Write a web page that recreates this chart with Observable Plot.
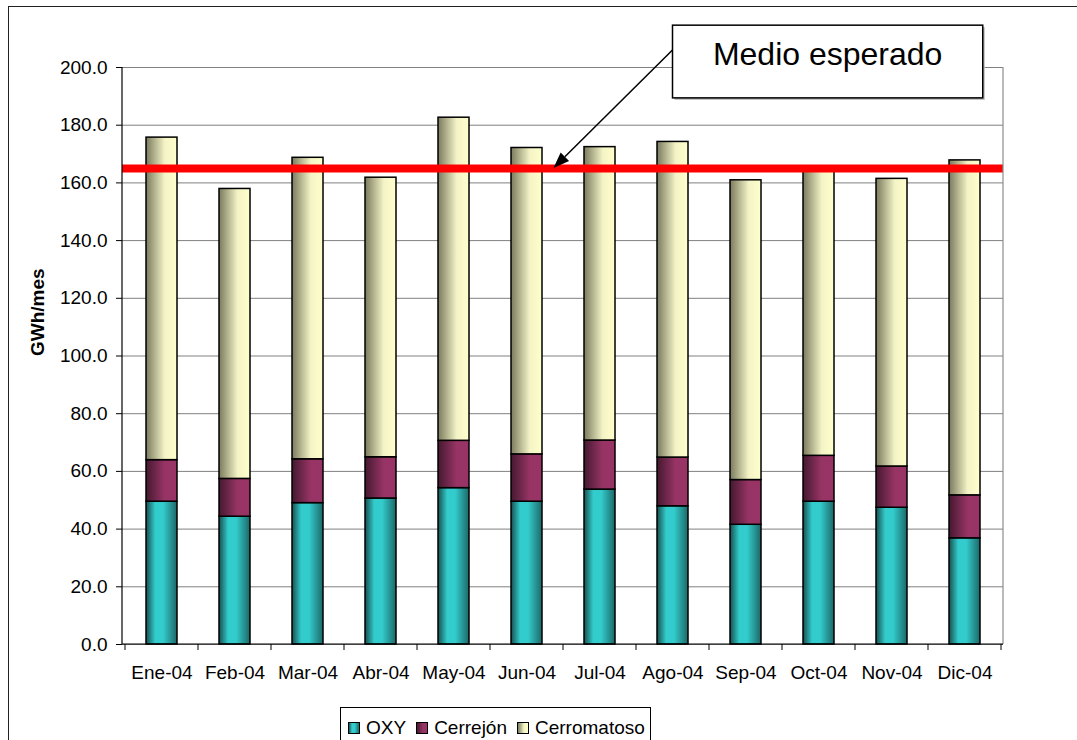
<!DOCTYPE html>
<html>
<head>
<meta charset="utf-8">
<script src="https://cdn.jsdelivr.net/npm/d3@7"></script>
<script src="https://cdn.jsdelivr.net/npm/@observablehq/plot@0.6"></script>
<style>
  body { margin: 0; background: #fff; font-family: "Liberation Sans", Arial, sans-serif; }
  #wrap { position: relative; width: 1077px; height: 740px; overflow: hidden; background: #fff; }
  #frame { position: absolute; left: 8px; top: 6px; width: 1200px; height: 900px; border: 1.5px solid #222; box-sizing: border-box; }
  #chart { position: absolute; left: 0; top: 0; }
  #legend { position: absolute; left: 340px; top: 707px; width: 311px; height: 40px; border: 1px solid #000; box-sizing: border-box;
            background: #fff; display: flex; align-items: flex-start; padding: 10px 0 0 7px; font-size: 19px; color: #000; }
  .item { display: flex; align-items: center; margin-right: 10px; line-height: 1; }
  .sw { width: 10px; height: 10px; border: 1px solid #000; margin-right: 6px; margin-top: 1px; }
</style>
</head>
<body>
<div id="wrap">
  <div id="frame"></div>
  <div id="chart"></div>
  <div id="legend"></div>
</div>
<script>
// Monthly generation by source (GWh/mes), 2004
const months = ["Ene-04", "Feb-04", "Mar-04", "Abr-04", "May-04", "Jun-04",
                "Jul-04", "Ago-04", "Sep-04", "Oct-04", "Nov-04", "Dic-04"];
const oxy         = [49.5, 44.3, 49.0, 50.6, 54.2, 49.5, 53.7, 47.9, 41.5, 49.5, 47.4, 36.8];
const cerrejon    = [14.4, 13.1, 15.2, 14.3, 16.4, 16.4, 17.0, 16.9, 15.5, 15.9, 14.3, 14.9];
const cerromatoso = [111.8, 100.5, 104.5, 96.9, 112.0, 106.2, 101.7, 109.4, 103.9, 99.1, 99.7, 116.1];
const series = ["OXY", "Cerrejón", "Cerromatoso"];
const expected = 165;           // medio esperado
const expectedLabel = "Medio esperado";
const yTicks = [0, 20, 40, 60, 80, 100, 120, 140, 160, 180, 200];

const values = {"OXY": oxy, "Cerrejón": cerrejon, "Cerromatoso": cerromatoso};
const rows = months.flatMap((m, i) => series.map(s => ({month: m, source: s, value: values[s][i]})));

// shaded fills, dark edge on the left like cylinders
const gradients = {
  "OXY":         {id: "g-oxy",  stops: [[0, "#184f4f"], [0.3, "#33cccc"], [0.55, "#33cccc"], [1, "#1d6868"]]},
  "Cerrejón":    {id: "g-cer",  stops: [[0, "#44192f"], [0.6, "#973465"], [1, "#993366"]]},
  "Cerromatoso": {id: "g-cmt",  stops: [[0, "#7a7a5e"], [0.6, "#f3f3c6"], [1, "#ffffcc"]]}
};

const font = "Liberation Sans, Arial, sans-serif";

// plot-area borders, category tick marks
function frameMark(index, scales, vals, dim) {
  const x = scales.x, y = scales.y;
  const left = dim.marginLeft, right = dim.width - dim.marginRight;
  const top = y(200), bottom = y(0);
  const step = x.step ? x.step() : (right - left) / months.length;
  const bw = x.bandwidth ? x.bandwidth() : 0;
  const center0 = x(months[0]) + bw / 2;
  const g = d3.create("svg:g");
  g.append("line").attr("x1", right).attr("x2", right).attr("y1", top).attr("y2", bottom)
    .attr("stroke", "#8c8c8c").attr("stroke-width", 1.2);
  g.append("line").attr("x1", left).attr("x2", left).attr("y1", top).attr("y2", bottom)
    .attr("stroke", "#000").attr("stroke-width", 1.2);
  g.append("line").attr("x1", left).attr("x2", right).attr("y1", bottom).attr("y2", bottom)
    .attr("stroke", "#000").attr("stroke-width", 1.2);
  for (let i = 0; i <= months.length; ++i) {
    const xi = center0 + (i - 0.5) * step;
    g.append("line").attr("x1", xi).attr("x2", xi).attr("y1", bottom).attr("y2", bottom + 6)
      .attr("stroke", "#000").attr("stroke-width", 1);
  }
  return g.node();
}

// callout box with an arrow pointing at the expected level
function calloutMark(index, scales, vals, dim) {
  const x = scales.x, y = scales.y;
  const step = x.step ? x.step() : (dim.width - dim.marginLeft - dim.marginRight) / months.length;
  const bw = x.bandwidth ? x.bandwidth() : 0;
  const pos = i => x(months[0]) + bw / 2 + i * step;   // fractional category position
  const bx0 = pos(7), bx1 = pos(11.25), by0 = y(214.5), by1 = y(189.3);
  const g = d3.create("svg:g");
  g.append("rect").attr("x", bx0 + 2).attr("y", by0 + 2).attr("width", bx1 - bx0).attr("height", by1 - by0)
    .attr("fill", "#bbb");
  g.append("rect").attr("x", bx0).attr("y", by0).attr("width", bx1 - bx0).attr("height", by1 - by0)
    .attr("fill", "#fff").attr("stroke", "#000").attr("stroke-width", 1.5);
  g.append("text").attr("x", (bx0 + bx1) / 2).attr("y", y(200.7)).attr("text-anchor", "middle")
    .attr("font-size", 32).attr("font-family", font).attr("fill", "#000").text(expectedLabel);
  const x1 = bx0, y1 = y(205.9), x2 = pos(5.37), y2 = y(expected);
  const ang = Math.atan2(y2 - y1, x2 - x1), len = 16, half = 6;
  const bxh = x2 - len * Math.cos(ang), byh = y2 - len * Math.sin(ang);
  g.append("line").attr("x1", x1).attr("y1", y1).attr("x2", bxh).attr("y2", byh)
    .attr("stroke", "#000").attr("stroke-width", 1.5);
  const px = -Math.sin(ang) * half, py = Math.cos(ang) * half;
  g.append("path").attr("d", `M${x2},${y2}L${bxh + px},${byh + py}L${bxh - px},${byh - py}Z`).attr("fill", "#000");
  return g.node();
}

const chart = Plot.plot({
  width: 1077,
  height: 700,
  marginLeft: 122,
  marginRight: 74,
  marginTop: 67,
  marginBottom: 56,
  style: {fontFamily: font, fontSize: "19px", color: "#000", background: "transparent", overflow: "visible"},
  x: {domain: months, paddingInner: 0.58, paddingOuter: 0.29, label: null},
  y: {domain: [0, 200], label: null},
  color: {domain: series, range: series.map(s => `url(#${gradients[s].id})`)},
  marks: [
    Plot.gridY(yTicks, {stroke: "#808080", strokeOpacity: 1, strokeWidth: 1}),
    Plot.barY(rows, {x: "month", y: "value", fill: "source", stroke: "#000", strokeWidth: 1.5, order: series}),
    Plot.ruleY([expected], {stroke: "#ff0000", strokeWidth: 8}),
    Plot.axisY(yTicks, {tickFormat: d3.format(".1f"), tickSize: 6, tickPadding: 9, fontSize: 19, label: null, stroke: "#000"}),
    Plot.axisX({tickSize: 0, tickPadding: 21, fontSize: 19, label: null}),
    Plot.text(["GWh/mes"], {frameAnchor: "left", rotate: -90, dx: -85, fontWeight: "bold", fontSize: 19}),
    frameMark,
    calloutMark
  ]
});

// gradient definitions referenced by the color scale
const defs = d3.select(chart).insert("defs", ":first-child");
for (const s of series) {
  const gr = defs.append("linearGradient").attr("id", gradients[s].id)
    .attr("x1", "0%").attr("x2", "100%").attr("y1", "0%").attr("y2", "0%");
  for (const [o, c] of gradients[s].stops) gr.append("stop").attr("offset", o).attr("stop-color", c);
}
document.getElementById("chart").appendChild(chart);

// legend
const legend = d3.select("#legend");
for (const s of series) {
  const it = legend.append("div").attr("class", "item");
  it.append("div").attr("class", "sw")
    .style("background", `linear-gradient(to right, ${gradients[s].stops.map(([o, c]) => `${c} ${o * 100}%`).join(", ")})`);
  it.append("span").text(s);
}
</script>
</body>
</html>
